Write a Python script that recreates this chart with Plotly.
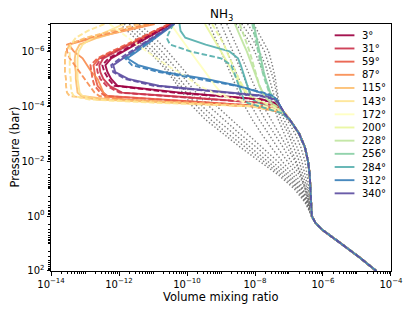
import plotly.graph_objects as go

# ---------------- data (log10 values) ----------------
longitudes = [3, 31, 59, 87, 115, 143, 172, 200, 228, 256, 284, 312, 340]
colors = ["#9e0142", "#cc344d", "#ea5d47", "#f98e52", "#fdbf6f", "#fee594", "#ffffbf",
          "#eaf79f", "#bfe5a0", "#89d0a5", "#55afad", "#397fb9", "#5e4fa2"]

# pressure levels, log10(bar)
upper_logp = [-7, -6.75, -6.5, -6.25, -6, -5.75, -5.5, -5.25, -5, -4.75, -4.5,
              -4.375, -4.25, -4.125, -4, -3.75, -3.5]
deep_logp = [-3, -2.5, -2, -1.5, -1, -0.5, 0, 0.25, 0.5, 1, 1.5, 2]
gray_logp = [-7, -6.5, -6, -5.5, -5, -4.5, -4, -3.5, -3, -2.5, -2, -1.5, -1, -0.5, 0]

# shared deep profile, log10(VMR)
deep_log_vmr = [-6.70, -6.53, -6.44, -6.39, -6.37, -6.35, -6.33, -6.22, -6.02, -5.47, -4.93, -4.43]

# upper-atmosphere profiles (one row per longitude), log10(VMR)
solid_log_vmr = [
    [-10.45, -10.80, -11.15, -11.50, -11.85, -12.23, -12.40, -12.34, -12.23, -12.05, -10.19, -8.97, -7.78, -7.43, -7.26, -7.14, -6.97],
    [-10.48, -10.89, -11.27, -11.67, -12.08, -12.46, -12.58, -12.55, -12.46, -12.28, -11.91, -10.51, -9.03, -7.78, -7.34, -7.14, -6.97],
    [-10.51, -10.89, -11.30, -11.73, -12.17, -12.58, -12.75, -12.72, -12.69, -12.63, -12.46, -12.34, -10.69, -8.94, -7.63, -7.14, -6.97],
    [-10.95, -11.82, -12.75, -13.48, -13.33, -13.07, -12.95, -12.81, -12.63, -12.55, -12.46, -12.40, -11.85, -10.25, -8.07, -7.14, -6.97],
    [-11.12, -11.94, -12.63, -13.16, -13.27, -13.30, -13.30, -13.27, -13.27, -13.24, -13.22, -13.10, -12.28, -9.96, -7.87, -7.11, -6.97],
    [-11.85, -12.34, -12.78, -13.07, -13.19, -13.22, -13.22, -13.22, -13.22, -13.19, -13.16, -13.07, -12.66, -10.54, -7.98, -7.11, -6.97],
    [-10.48, -10.34, -10.19, -10.05, -9.90, -9.76, -9.61, -9.47, -9.32, -9.17, -9.00, -8.85, -8.65, -8.27, -7.69, -7.14, -6.97],
    [-9.47, -9.35, -9.23, -9.12, -9.00, -8.88, -8.77, -8.65, -8.53, -8.42, -8.27, -8.16, -7.98, -7.75, -7.46, -7.14, -6.97],
    [-8.59, -8.51, -8.42, -8.33, -8.24, -8.16, -8.08, -8.01, -7.94, -7.87, -7.78, -7.72, -7.63, -7.52, -7.37, -7.14, -6.97],
    [-8.04, -8.00, -7.95, -7.91, -7.87, -7.82, -7.78, -7.74, -7.69, -7.63, -7.55, -7.49, -7.42, -7.34, -7.28, -7.14, -6.97],
    [-10.22, -10.19, -10.05, -9.45, -8.75, -8.50, -8.42, -8.36, -8.29, -8.23, -8.16, -8.11, -8.06, -7.92, -7.69, -7.20, -6.97],
    [-10.37, -10.64, -10.92, -11.19, -11.47, -11.76, -11.44, -10.69, -9.44, -8.51, -7.78, -7.49, -7.37, -7.31, -7.26, -7.14, -6.97],
    [-10.37, -10.69, -10.98, -11.30, -11.59, -11.88, -12.17, -12.11, -11.73, -10.83, -8.65, -7.69, -7.40, -7.31, -7.26, -7.14, -6.97],
]

dashed_log_vmr = [
    [-10.48, -10.86, -11.24, -11.59, -11.94, -12.31, -12.49, -12.43, -12.31, -12.14, -10.40, -9.09, -7.84, -7.43, -7.26, -7.14, -6.97],
    [-10.51, -10.95, -11.33, -11.73, -12.14, -12.52, -12.66, -12.63, -12.55, -12.37, -11.99, -10.69, -9.15, -7.84, -7.34, -7.14, -6.97],
    [-10.54, -10.95, -11.35, -11.79, -12.23, -12.63, -12.84, -12.81, -12.78, -12.72, -12.55, -12.40, -10.83, -9.03, -7.69, -7.14, -6.97],
    [-11.12, -11.99, -12.87, -13.53, -13.53, -13.45, -13.30, -13.16, -13.01, -12.87, -12.72, -12.58, -11.99, -10.10, -7.98, -7.14, -6.97],
    [-11.41, -12.23, -12.98, -13.45, -13.56, -13.59, -13.59, -13.59, -13.56, -13.56, -13.53, -13.45, -12.58, -9.81, -7.78, -7.11, -6.97],
    [-12.43, -12.92, -13.27, -13.42, -13.45, -13.45, -13.45, -13.45, -13.42, -13.42, -13.39, -13.33, -12.87, -10.83, -8.07, -7.11, -6.97],
    [-12.28, -11.99, -11.73, -11.47, -11.18, -10.89, -10.60, -10.25, -9.93, -9.64, -9.23, -8.94, -8.56, -8.16, -7.69, -7.14, -6.97],
    [-9.26, -9.15, -9.03, -8.91, -8.83, -8.74, -8.65, -8.56, -8.48, -8.36, -8.24, -8.13, -7.95, -7.72, -7.43, -7.14, -6.97],
    [-8.45, -8.37, -8.30, -8.23, -8.16, -8.10, -8.04, -7.98, -7.92, -7.87, -7.78, -7.72, -7.63, -7.52, -7.37, -7.14, -6.97],
    [-8.08, -8.04, -8.00, -7.95, -7.91, -7.87, -7.82, -7.78, -7.72, -7.66, -7.58, -7.50, -7.43, -7.34, -7.28, -7.14, -6.97],
    [-10.40, -10.51, -10.60, -10.50, -9.90, -9.00, -8.70, -8.62, -8.55, -8.48, -8.42, -8.37, -8.33, -8.22, -7.87, -7.20, -6.97],
    [-10.40, -10.69, -10.98, -11.27, -11.53, -11.82, -11.62, -10.83, -9.67, -8.56, -7.75, -7.46, -7.37, -7.31, -7.26, -7.14, -6.97],
    [-10.40, -10.72, -11.03, -11.35, -11.65, -11.97, -12.23, -12.17, -11.82, -10.98, -8.85, -7.84, -7.43, -7.31, -7.26, -7.14, -6.97],
]

# gray dotted reference profiles on gray_logp, log10(VMR)
gray_log_vmr = [
    [-11.97, -11.53, -11.12, -10.74, -10.42, -10.13, -9.84, -9.44, -8.94, -8.42, -7.87, -7.31, -6.85, -6.53, -6.33],
    [-11.85, -11.41, -11.01, -10.66, -10.34, -10.02, -9.70, -9.29, -8.80, -8.27, -7.75, -7.23, -6.79, -6.50, -6.33],
    [-11.70, -11.27, -10.89, -10.54, -10.22, -9.90, -9.55, -9.12, -8.62, -8.13, -7.63, -7.14, -6.73, -6.50, -6.33],
    [-11.56, -11.12, -10.74, -10.40, -10.08, -9.73, -9.35, -8.91, -8.45, -7.95, -7.49, -7.05, -6.70, -6.47, -6.33],
    [-11.41, -10.95, -10.57, -10.22, -9.87, -9.49, -9.12, -8.68, -8.24, -7.78, -7.34, -6.97, -6.65, -6.47, -6.33],
    [-9.35, -9.17, -9.00, -8.83, -8.65, -8.48, -8.30, -8.07, -7.81, -7.52, -7.20, -6.88, -6.62, -6.44, -6.33],
    [-9.17, -9.00, -8.83, -8.65, -8.48, -8.30, -8.10, -7.87, -7.60, -7.34, -7.05, -6.79, -6.59, -6.44, -6.33],
    [-9.00, -8.83, -8.65, -8.48, -8.30, -8.13, -7.92, -7.69, -7.43, -7.17, -6.94, -6.70, -6.53, -6.41, -6.33],
    [-8.83, -8.65, -8.48, -8.30, -8.13, -7.95, -7.75, -7.52, -7.28, -7.05, -6.82, -6.65, -6.50, -6.41, -6.33],
    [-8.56, -8.24, -8.01, -7.84, -7.69, -7.58, -7.46, -7.31, -7.14, -6.97, -6.79, -6.65, -6.53, -6.44, -6.33],
    [-8.39, -8.10, -7.87, -7.69, -7.58, -7.46, -7.37, -7.23, -7.02, -6.85, -6.70, -6.59, -6.47, -6.41, -6.33],
    [-8.22, -7.95, -7.72, -7.58, -7.46, -7.37, -7.31, -7.14, -6.94, -6.76, -6.62, -6.53, -6.44, -6.38, -6.33],
    [-8.04, -7.81, -7.60, -7.49, -7.40, -7.34, -7.28, -7.05, -6.82, -6.65, -6.53, -6.47, -6.41, -6.38, -6.33],
]

x_tick_exps = [-14, -12, -10, -8, -6, -4]
y_tick_exps = [-6, -4, -2, 0, 2]

# ---------------- figure ----------------
FONT = "DejaVu Sans"
fig = go.Figure()

def pw(vals):
    return [10.0 ** v for v in vals]

gray_p = gray_logp + deep_logp[7:]
for row in gray_log_vmr:
    fig.add_trace(go.Scatter(
        x=pw(row + deep_log_vmr[7:]), y=pw(gray_p), mode="lines",
        line=dict(color="rgba(110,110,110,0.9)", width=1.4, dash="1.4px,2.1px"),
        showlegend=False, hoverinfo="skip"))

full_p = upper_logp + deep_logp
for i, lon in enumerate(longitudes):
    fig.add_trace(go.Scatter(
        x=pw(solid_log_vmr[i] + deep_log_vmr), y=pw(full_p), mode="lines",
        line=dict(color=colors[i], width=1.9), opacity=0.92,
        name=f"{lon}°", showlegend=False))
for i, lon in enumerate(longitudes):
    fig.add_trace(go.Scatter(
        x=pw(dashed_log_vmr[i] + deep_log_vmr), y=pw(full_p), mode="lines",
        line=dict(color=colors[i], width=1.9, dash="5.5px,2.5px"), opacity=0.92,
        showlegend=False))

def sup(e):
    return "10<sup>" + str(e).replace("-", "\u2212") + "</sup>"

minor_x = [k * 10.0 ** d for d in range(-14, -4) for k in range(1, 10)
           if not (k == 1 and d in x_tick_exps)]
minor_y = [k * 10.0 ** d for d in range(-7, 2) for k in range(1, 10)
           if not (k == 1 and d in y_tick_exps)]

axis_common = dict(showline=True, linecolor="black", linewidth=1, mirror=True,
                   ticks="outside", ticklen=3.5, tickwidth=0.8, tickcolor="black",
                   showgrid=False, zeroline=False,
                   tickfont=dict(family=FONT, size=10, color="black"))

fig.update_xaxes(type="log", range=[-14.0005, -3.9995],
                 tickvals=[10.0 ** e for e in x_tick_exps],
                 ticktext=[sup(e) for e in x_tick_exps],
                 minor=dict(tickvals=minor_x, ticks="outside", ticklen=2,
                            tickwidth=0.6, tickcolor="black"),
                 **axis_common)
fig.update_yaxes(type="log", range=[2.0005, -7],
                 tickvals=[10.0 ** e for e in y_tick_exps],
                 ticktext=[sup(e) for e in y_tick_exps],
                 minor=dict(tickvals=minor_y, ticks="outside", ticklen=2,
                            tickwidth=0.6, tickcolor="black"),
                 **axis_common)

# reference plot box (page pixels): left 51, right 395, top 24, bottom 271
PL, PR, PT, PB = 51, 395, 24, 271
PAGE_OFFSET = 8  # default body margin of the html page
W, H = 415 - PAGE_OFFSET, 311 - PAGE_OFFSET

def px_x(p):
    return (p - PL) / (PR - PL)

def px_y(p):
    return (PB - p) / (PB - PT)

annotations = [
    dict(text="NH<sub>3</sub>", x=0.5, y=px_y(15), xref="paper", yref="paper",
         showarrow=False, font=dict(family=FONT, size=12, color="black"),
         xanchor="center", yanchor="middle", borderpad=0),
    dict(text="Volume mixing ratio", x=0.5, y=px_y(297), xref="paper", yref="paper",
         showarrow=False, font=dict(family=FONT, size=11.5, color="black"),
         xanchor="center", yanchor="middle", borderpad=0),
    dict(text="Pressure (bar)", x=px_x(15), y=px_y(147), xref="paper", yref="paper",
         showarrow=False, textangle=-90, font=dict(family=FONT, size=11.5, color="black"),
         xanchor="center", yanchor="middle", borderpad=0),
]
shapes = []
for i, lon in enumerate(longitudes):
    yy = px_y(35.3 + 13.17 * i)
    shapes.append(dict(type="line", xref="paper", yref="paper",
                       x0=px_x(338), x1=px_x(358), y0=yy, y1=yy,
                       line=dict(color=colors[i], width=1.9), opacity=0.92))
    annotations.append(dict(text=f"{lon}°", x=px_x(364), y=yy, xref="paper", yref="paper",
                            showarrow=False, xanchor="left", yanchor="middle",
                            font=dict(family=FONT, size=10, color="black")))

fig.update_layout(width=W, height=H,
                  margin=dict(l=PL - PAGE_OFFSET, r=415 - PR, t=PT - PAGE_OFFSET, b=311 - PB),
                  paper_bgcolor="white", plot_bgcolor="white",
                  showlegend=False, annotations=annotations, shapes=shapes,
                  font=dict(family=FONT, size=10, color="black"))

fig.write_html("out.html")
